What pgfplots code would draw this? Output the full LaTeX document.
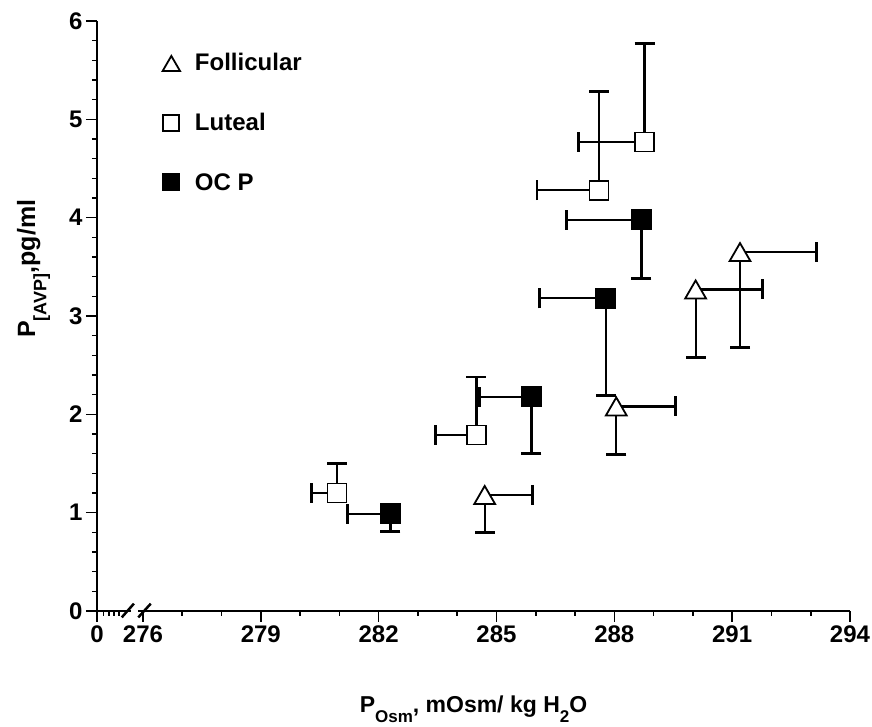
\documentclass[border=0pt]{standalone}
\usepackage{fontspec}
\setmainfont{Liberation Sans}
\usepackage{pgfplots}
\usepackage{pgfplotstable}
\pgfplotsset{compat=1.18}
\pgfplotstableread{
x      y     ex    ey
284.7  1.18  1.22  0.38
288.05 2.08  1.5   0.49
290.07 3.27  1.71  0.69
291.2  3.65  1.94  0.97
}\fol
\pgfplotstableread{
x      y     ex    ey
280.94 1.2   0.65  0.3
284.49 1.79  1.05  0.59
287.61 4.28  1.58  1.0
288.77 4.77  1.69  1.0
}\lut
\pgfplotstableread{
x      y     ex    ey
282.3  0.99  1.1   0.18
285.89 2.18  1.32  0.58
287.78 3.18  1.68  0.99
288.69 3.98  1.91  0.6
}\ocp
\begin{document}
\begin{tikzpicture}
\path[use as bounding box] (0bp,0bp) rectangle (872bp,727bp);
\begin{axis}[
  at={(97bp,116bp)}, anchor=south west,
  scale only axis, width=753bp, height=590bp,
  xmin=274.83, xmax=294, ymin=0, ymax=6,
  axis x line*=bottom, axis y line*=left,
  axis line style={line width=2.2bp, black},
  xtick={274.83,276,279,282,285,288,291,294},
  xticklabels={0,276,279,282,285,288,291,294},
  minor xtick={275.0,275.13,275.26,275.39,277,278,280,281,283,284,286,287,289,290,292,293},
  ytick={0,1,2,3,4,5,6},
  minor y tick num=4,
  tick align=outside,
  major tick length=11bp, minor tick length=5bp,
  every tick/.style={black, line width=1.6bp},
  tick label style={font=\bfseries\fontsize{24bp}{28bp}\selectfont},
  /pgf/number format/assume math mode=true,
  clip=false,
  xlabel={P\raisebox{-0.45em}{\fontsize{17bp}{17bp}\selectfont Osm}, mOsm/ kg H\raisebox{-0.45em}{\fontsize{17bp}{17bp}\selectfont 2}O},
  xlabel style={font=\bfseries\fontsize{23bp}{27bp}\selectfont, at={(rel axis cs:0.5,0)}, anchor=base, yshift=-101bp},
  ylabel={P\raisebox{-0.45em}{\fontsize{18bp}{18bp}\selectfont [AVP]},pg/ml},
  ylabel style={font=\bfseries\fontsize{25bp}{29bp}\selectfont, at={(rel axis cs:-0.0823,0.58)}, anchor=base},
  legend style={draw=none, fill=none, at={(rel axis cs:0.083,0.952)}, anchor=north west,
    font=\bfseries\fontsize{24bp}{28bp}\selectfont, row sep=37bp, column sep=13bp},
  legend cell align=left,
  ebar/.style={forget plot, only marks, mark=none,
    /pgfplots/error bars/x explicit, /pgfplots/error bars/y explicit,
    /pgfplots/error bars/error bar style={line width=2.2bp, black, solid},
    /pgfplots/error bars/error mark options={rotate=90, line width=2.8bp, mark size=10bp, black}},
  after end axis/.code={
    \fill[white] (axis cs:275.70,-0.06) rectangle (axis cs:275.88,0.06);
    \draw[line width=2.5bp] (axis cs:275.46,-0.065) -- (axis cs:275.77,0.075);
    \draw[line width=2.5bp] (axis cs:275.88,-0.065) -- (axis cs:276.2,0.075);
  },
]
% error bars first (drawn beneath the markers)
\addplot[ebar, /pgfplots/error bars/x dir=plus, /pgfplots/error bars/y dir=minus]
  table[x=x, y=y, x error=ex, y error=ey] {\fol};
\addplot[ebar, /pgfplots/error bars/x dir=minus, /pgfplots/error bars/y dir=plus]
  table[x=x, y=y, x error=ex, y error=ey] {\lut};
\addplot[ebar, /pgfplots/error bars/x dir=minus, /pgfplots/error bars/y dir=minus]
  table[x=x, y=y, x error=ex, y error=ey] {\ocp};
% markers
\addplot[only marks, black, mark=triangle*, mark size=12bp,
  mark options={fill=white, line width=1.8bp, yshift=-3bp},
  legend image post style={mark size=10bp, line width=1.4bp}]
  table[x=x, y=y] {\fol};
\addlegendentry{Follicular}
\addplot[only marks, black, mark=square*, mark size=9.5bp,
  mark options={fill=white, line width=1.8bp},
  legend image post style={mark size=8bp, line width=1.4bp}]
  table[x=x, y=y] {\lut};
\addlegendentry{Luteal}
\addplot[only marks, black, mark=square*, mark size=9.5bp,
  mark options={fill=black, line width=1.8bp},
  legend image post style={mark size=8bp}]
  table[x=x, y=y] {\ocp};
\addlegendentry{OC P}
\end{axis}
\end{tikzpicture}
\end{document}
